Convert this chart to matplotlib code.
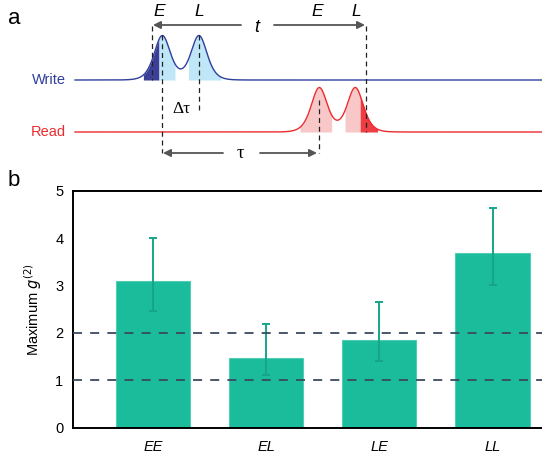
import numpy as np
import matplotlib.pyplot as plt
from matplotlib.patches import FancyArrowPatch

plt.rcParams['font.family'] = ['Liberation Sans', 'DejaVu Sans']

# ---- panel b data ----
categories = ['EE', 'EL', 'LE', 'LL']
g2_max = [3.09, 1.48, 1.84, 3.69]
err_upper = [4.00, 2.19, 2.66, 4.64]
err_lower = [2.47, 1.12, 1.41, 3.02]
ref_levels = [1, 2]
yticks = [0, 1, 2, 3, 4, 5]

# ---- panel a: double-pulse timing diagram (pixel-like units) ----
write_peaks = [162.3, 199.0]
read_peaks = [319.3, 355.3]
pulse_width = 10.8
pulse_amp = 44.5
write_base = 80.0
read_base = 132.0
write_dark = (143.3, 159.0)
write_light = [(159.0, 175.0), (188.3, 221.0)]
read_light = [(300.0, 331.7), (345.0, 360.0)]
read_dark = (360.0, 377.7)

fig = plt.figure(figsize=(5.42, 4.59), dpi=100)

# ---------------- panel a ----------------
axa = fig.add_axes([0, 0, 1, 1])
axa.set_xlim(0, 542)
axa.set_ylim(459, 0)
axa.axis('off')


def sech2(u):
    return 1.0 / np.cosh(u) ** 2


def pulse_pair(x, peaks, amp):
    y = np.zeros_like(x)
    for c in peaks:
        y += sech2((x - c) / pulse_width)
    norm = 1 + sech2((peaks[1] - peaks[0]) / pulse_width)
    return amp * y / norm


x = np.linspace(75, 542, 3000)
yw = write_base - pulse_pair(x, write_peaks, pulse_amp)
yr = read_base - pulse_pair(x, read_peaks, pulse_amp)

blue_line = '#2e3f9c'
red_line = '#ec2b2f'


def shade(x0, x1, base, curve, color):
    m = (x >= x0) & (x <= x1)
    axa.fill_between(x[m], base, curve[m], color=color, lw=0, zorder=1)


shade(*write_dark, write_base, yw, '#3c3f96')
for a, b in write_light:
    shade(a, b, write_base, yw, '#bfe7f8')
for a, b in read_light:
    shade(a, b, read_base, yr, '#f8c8c9')
shade(*read_dark, read_base, yr, '#ee3d43')

axa.plot(x, yw, color=blue_line, lw=1.0, zorder=2)
axa.plot(x, yr, color=red_line, lw=1.0, zorder=2)

axa.text(66, write_base, 'Write', color=blue_line, fontsize=10.5,
         ha='right', va='center')
axa.text(66, read_base, 'Read', color=red_line, fontsize=10.5,
         ha='right', va='center')

dash_kw = dict(color='#222222', lw=0.9, ls=(0, (4, 3)), zorder=3)
axa.plot([152, 152], [26, write_base], **dash_kw)
axa.plot([write_peaks[0]] * 2, [35, 153], **dash_kw)
axa.plot([write_peaks[1]] * 2, [35, 110], **dash_kw)
axa.plot([read_peaks[0]] * 2, [100, 153], **dash_kw)
axa.plot([366, 366], [26, read_base], **dash_kw)

arrow_col = '#555555'


def arrow(x0, x1, y):
    axa.add_patch(FancyArrowPatch((x0, y), (x1, y), arrowstyle='-|>',
                                  mutation_scale=11, color=arrow_col,
                                  lw=1.3, shrinkA=0, shrinkB=0, zorder=3))


arrow(241, 153, 25)
arrow(274, 365, 25)
arrow(223, 163, 153)
arrow(260, 317, 153)

lab_kw = dict(fontsize=12.5, style='italic', ha='center', va='center')
axa.text(159, 12, 'E', **lab_kw)
axa.text(199.5, 12, 'L', **lab_kw)
axa.text(317, 12, 'E', **lab_kw)
axa.text(356, 12, 'L', **lab_kw)
axa.text(257, 27, 't', fontsize=13, style='italic', ha='center', va='center')
axa.text(181, 109, 'Δτ', fontsize=12.5, ha='center', va='center',
         family=['Liberation Serif', 'DejaVu Serif'])
axa.text(240, 154, 'τ', fontsize=13.5, ha='center', va='center',
         family=['Liberation Serif', 'DejaVu Serif'])

axa.text(8, 18, 'a', fontsize=16, ha='left', va='center')
axa.text(8, 181, 'b', fontsize=16, ha='left', va='center')

# ---------------- panel b ----------------
axb = fig.add_axes([73 / 542, (459 - 427.7) / 459, 1 - 73 / 542,
                    (427.7 - 190.7) / 459])
pos = np.arange(len(categories))
vals = np.array(g2_max)
yerr = np.array([vals - np.array(err_lower), np.array(err_upper) - vals])

axb.bar(pos, vals, width=0.655, color='#1abc9c', edgecolor='#52cdb2',
        linewidth=0.8, zorder=2)
axb.errorbar(pos, vals, yerr=yerr, fmt='none', ecolor='#17a589',
             elinewidth=1.4, capsize=3.0, capthick=1.4, zorder=3)
for lvl in ref_levels:
    axb.axhline(lvl, color='#3a4a5e', lw=1.3, ls=(0, (5, 4.5)), zorder=4)

axb.set_xlim(-0.707, 3.437)
axb.set_ylim(0, 5)
axb.set_yticks(yticks)
axb.set_xticks(pos)
axb.set_xticklabels(categories, style='italic', fontsize=10.5)
axb.tick_params(axis='y', length=0, pad=7, labelsize=10.5)
axb.tick_params(axis='x', length=0, pad=9)
axb.set_ylabel('Maximum $g^{(2)}$', fontsize=10.5, labelpad=8)
for s in ['left', 'bottom', 'top']:
    axb.spines[s].set_linewidth(1.4)
axb.spines['right'].set_visible(False)

fig.savefig('out.png', dpi=100)
